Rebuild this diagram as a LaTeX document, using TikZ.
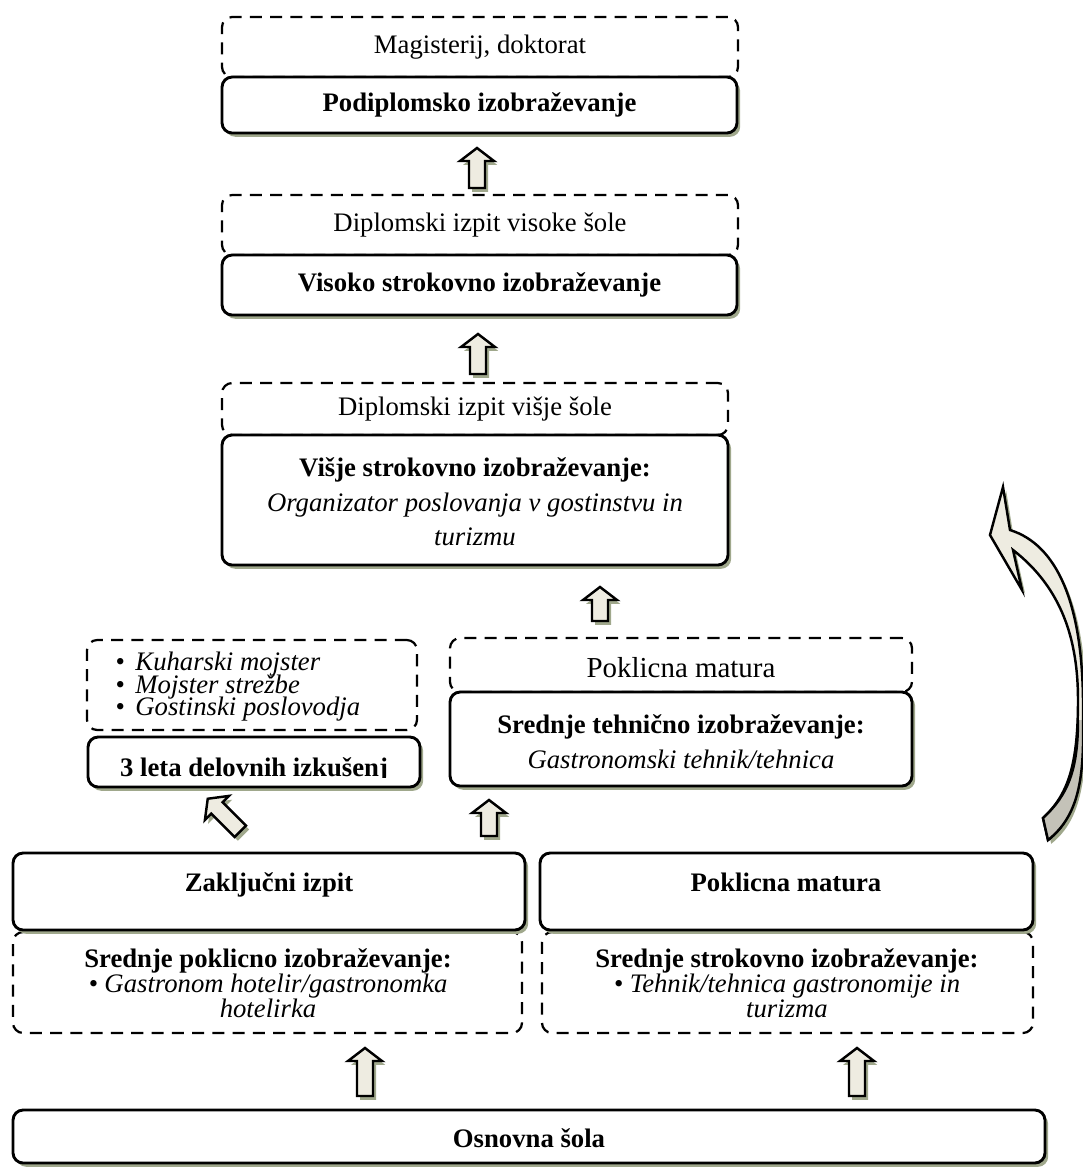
\documentclass[tikz,border=0pt]{standalone}
\usepackage{fontspec}
\setmainfont{Liberation Serif}
\usetikzlibrary{fit,shadows}
\definecolor{shadowc}{RGB}{160,168,140}
\definecolor{arrowfill}{RGB}{238,236,225}
\definecolor{arrowdark}{RGB}{196,194,184}
\def\tightlines{\lineskiplimit=-10pt\relax}
\tikzset{
  solidbox/.style={draw, line width=1.3pt, rounded corners=0.16cm, fill=white, inner sep=0pt,
    drop shadow={shadow xshift=0.05cm, shadow yshift=-0.06cm, fill=shadowc, opacity=1}},
  dashbox/.style={draw, line width=1pt, dash pattern=on 0.19cm off 0.13cm, rounded corners=0.16cm,
    fill=white, inner sep=0pt},
  arrowline/.style={draw=black, line width=1.1pt, fill=arrowfill, line join=miter,
    drop shadow={shadow xshift=0.05cm, shadow yshift=-0.06cm, fill=shadowc, opacity=1}},
}
\def\blockarrow(#1,#2)(#3:#4){\draw[arrowline, shift={(#1,#2)}, rotate=#3] (0,-#4) -- (17,-#4+13) -- (8,-#4+13) -- (8,#4) -- (-8,#4) -- (-8,-#4+13) -- (-17,-#4+13) -- cycle}

\begin{document}
\fontsize{12}{14}\selectfont
\begin{tikzpicture}[x=0.0158cm, y=-0.0158cm]
			\useasboundingbox (0,0) rectangle (1083,1169);
			
			%%%%% podiplomsko %%%%%
			\node[dashbox, fit={(222,17) (738,77)}] (magd) {};
			\node (magdt) at (magd) {Magisterij, doktorat};
			\node[solidbox, fit={(222,77) (737,133)}] (podi) {};
			\node[font=\bfseries] (podit) at (podi) {Podiplomsko izobraževanje};
			\blockarrow(477,168)(0:20);
			
			%%%%% visoko %%%%%
			\node[dashbox, fit={(222,195) (738,255)}] (dipvs) {};
			\node (dipvst) at (dipvs) {Diplomski izpit visoke šole};
			\node[solidbox, fit={(222,255) (737,315)}] (visok) {};
			\node[font=\bfseries] (visokt) at (visok) {Visoko strokovno izobraževanje};
			\blockarrow(478,354)(0:20);
			
			%%%%% visje %%%%%
			\node[dashbox, fit={(222,383) (728,435)}] (dipvi) {};
			\node (dipvit) at (dipvi) {Diplomski izpit višje šole};
			\node[solidbox, fit={(222,435) (728,565)}] (visje) {};
			\node[align=center, font=\fontsize{12}{15.5}\selectfont] (visjet) at (475,502)
				{\textbf{Višje strokovno izobraževanje:}\\ \textit{Organizator poslovanja v gostinstvu in}\\ \textit{turizmu}};
			\blockarrow(600,604)(0:17);
			
			%%%%% mojster %%%%%
			\node[dashbox, fit={(87,640) (417,730)}] (mojster) {};
			\node[solidbox, fit={(88,737) (420,787)}] (delo) {};
			\begin{scope}
				\clip (88,642) rectangle (416,723);
				\node[anchor=west, align=left, inner sep=0pt, font=\itshape\fontsize{12}{10.1}\selectfont\tightlines] (mojlist) at (115,687)
					{\makebox[9pt][l]{•}Kuharski mojster\\ \makebox[9pt][l]{•}Mojster strežbe\\ \makebox[9pt][l]{•}Gostinski poslovodja};
			\end{scope}
			\begin{scope}
				\clip (90,739) rectangle (418,777);
				\node[anchor=base, font=\bfseries] (delot) at (254,776) {3 leta delovnih izkušenj};
			\end{scope}
			
			%%%%% tehnik %%%%%
			\node[dashbox, fit={(450,638) (912,692)}] (pokm) {};
			\node[font=\fontsize{13}{15}\selectfont] (pokmt) at (681,668) {Poklicna matura};
			\node[solidbox, fit={(450,692) (912,786)}] (srteh) {};
			\node[align=center, font=\fontsize{12}{15.7}\selectfont] (sreht) at (681,742)
				{\textbf{Srednje tehnično izobraževanje:}\\ \textit{Gastronomski tehnik/tehnica}};
			
			\blockarrow(224,815)(45:23);
			\blockarrow(489,818)(0:18);
			
			%%%%% srednje %%%%%
			\node[dashbox, fit={(13,932) (522,1033)}] (srpok) {};
			\node[align=center, font=\fontsize{12}{11.2}\selectfont\tightlines] (srpokt) at (268,983)
				{\textbf{Srednje poklicno izobraževanje:}\\ \textit{• Gastronom hotelir/gastronomka}\\ \textit{hotelirka}};
			\node[dashbox, fit={(542,932) (1033,1033)}] (srstr) {};
			\node[align=center, font=\fontsize{12}{11.2}\selectfont\tightlines] (srstrt) at (787,983)
				{\textbf{Srednje strokovno izobraževanje:}\\ \textit{• Tehnik/tehnica gastronomije in}\\ \textit{turizma}};
			\node[solidbox, fit={(13,853) (525,930)}] (zakl) {};
			\node[anchor=base, font=\bfseries] (zaklt) at (269,891) {Zaključni izpit};
			\node[solidbox, fit={(540,853) (1033,930)}] (pokm2) {};
			\node[anchor=base, font=\bfseries] (pokm2t) at (786,891) {Poklicna matura};
			
			\blockarrow(365,1072)(0:24);
			\blockarrow(857,1072)(0:24);
			
			%%%%% osnovna %%%%%
			\node[solidbox, fit={(13,1110) (1045,1163)}] (osn) {};
			\node[font=\bfseries] (osnt) at (529,1138) {Osnovna šola};
			
			%%%%% curved arrow %%%%%
			\draw[arrowline] (1003,487) -- (1010,530) .. controls (1058,545) and (1082,605) .. (1083,700)
				.. controls (1084,770) and (1080,815) .. (1048,840) -- (1043,818)
				.. controls (1068,795) and (1078,765) .. (1078,700)
				.. controls (1078,640) and (1062,588) .. (1013,550) -- (1022,590) -- (990,535) -- cycle;
			\fill[arrowdark] (1083,720) .. controls (1084,775) and (1080,815) .. (1048,840) -- (1043,818)
				.. controls (1068,795) and (1078,770) .. (1078,720) -- cycle;
			\draw[line width=1.1pt] (1083,720) .. controls (1084,775) and (1080,815) .. (1048,840) -- (1043,818)
				.. controls (1068,795) and (1078,770) .. (1078,720);
			
\end{tikzpicture}
\end{document}
